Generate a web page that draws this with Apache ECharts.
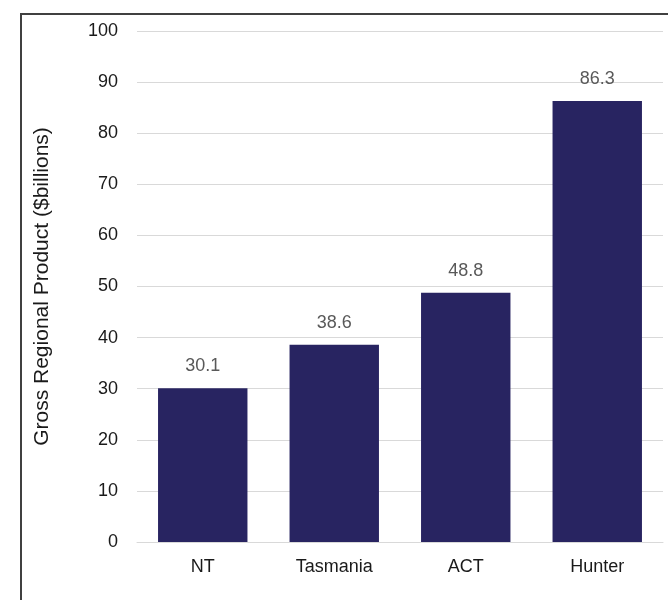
<!DOCTYPE html>
<html>
<head>
<meta charset="utf-8">
<script src="https://cdn.jsdelivr.net/npm/echarts@6/dist/echarts.min.js"></script>
<style>
  html, body { margin: 0; padding: 0; background: #fff; }
  #chart { width: 668px; height: 600px; }
</style>
</head>
<body>
<div id="chart"></div>
<script>
// Gross Regional Product by region ($ billions)
const regions = ['NT', 'Tasmania', 'ACT', 'Hunter'];
const grpValues = [30.1, 38.6, 48.8, 86.3];
const axisTitle = 'Gross Regional Product ($billions)';

const chart = echarts.init(document.getElementById('chart'), null, { renderer: 'canvas' });

chart.setOption({
  animation: false,
  textStyle: { fontFamily: 'Liberation Sans, Arial, sans-serif' },
  graphic: [{
    type: 'rect',
    silent: true,
    z: 100,
    shape: { x: 21, y: 14, width: 700, height: 700 },
    style: { fill: 'none', stroke: '#404040', lineWidth: 2 }
  }],
  grid: { left: 137, right: 5, top: 31, bottom: 58 },
  xAxis: {
    type: 'category',
    data: regions,
    axisLine: { show: true, lineStyle: { color: '#d9d9d9', width: 1 } },
    axisTick: { show: false },
    axisLabel: { color: '#1a1a1a', fontSize: 18, margin: 16 }
  },
  yAxis: {
    type: 'value',
    min: 0,
    max: 100,
    interval: 10,
    name: axisTitle,
    nameLocation: 'middle',
    nameGap: 84,
    nameTextStyle: { color: '#1a1a1a', fontSize: 21 },
    axisLine: { show: false },
    axisTick: { show: false },
    axisLabel: { color: '#1a1a1a', fontSize: 18, margin: 19 },
    splitLine: { lineStyle: { color: '#d9d9d9', width: 1 } }
  },
  series: [{
    type: 'bar',
    data: grpValues,
    barCategoryGap: '32%',
    itemStyle: { color: '#282461' },
    label: {
      show: true,
      position: 'top',
      distance: 13,
      color: '#595959',
      fontSize: 18,
      formatter: p => p.value.toFixed(1)
    }
  }]
});
</script>
</body>
</html>
